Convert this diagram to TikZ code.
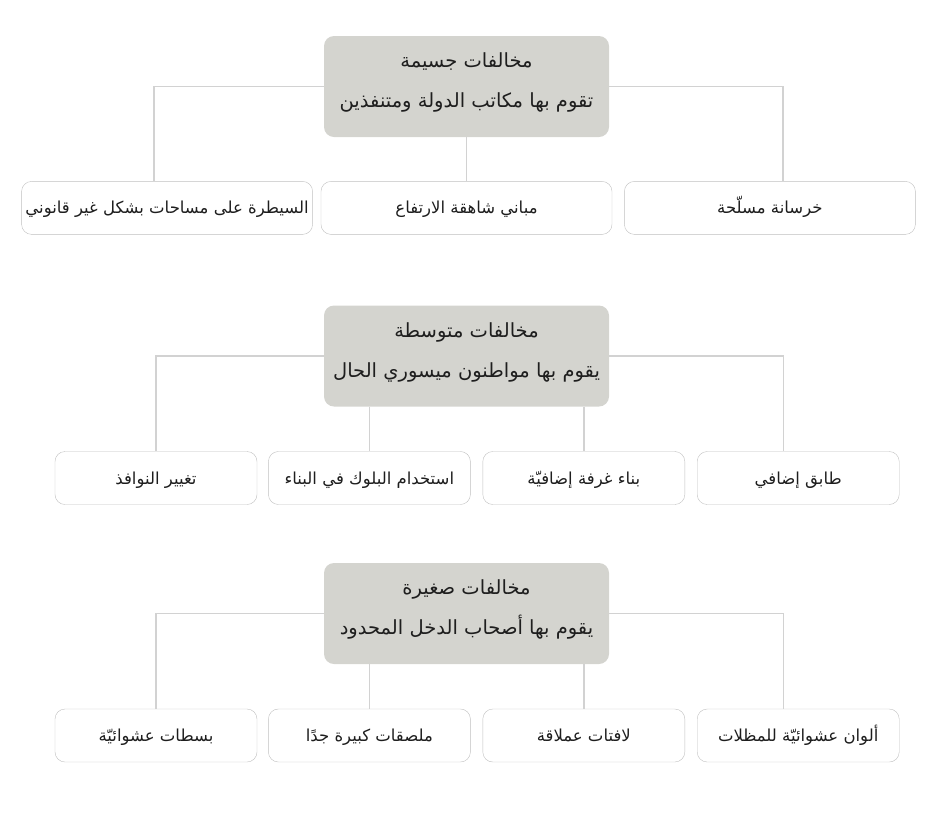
\documentclass[tikz,border=0pt]{standalone}
\usepackage{fontspec}
\usetikzlibrary{positioning}
\TeXXeTstate=1
\newfontfamily\arabicfont[Script=Arabic]{DejaVu Sans}
\newcommand{\artext}[1]{{\arabicfont\beginR #1\endR}}
\definecolor{headgray}{RGB}{212,212,207}
\definecolor{leafgray}{RGB}{192,192,192}
\definecolor{linegray}{RGB}{210,210,210}
\definecolor{inkgray}{RGB}{30,30,30}

\begin{document}
\begin{tikzpicture}[x=1pt,y=-1pt]
\tikzstyle{head}=[rectangle, rounded corners=10pt, fill=headgray, text=inkgray, minimum width=285pt, minimum height=101pt, align=center, text depth=12pt, font=\fontsize{19.5}{40}\selectfont]
\tikzstyle{leaf}=[rectangle, rounded corners=10pt, draw=leafgray, fill=white, text=inkgray, minimum height=53pt, text height=13.5pt, text depth=1.5pt, font=\fontsize{16.5}{18}\selectfont]
\tikzstyle{wide}=[leaf, minimum width=291pt]
\tikzstyle{narrow}=[leaf, minimum width=202pt]
\tikzstyle{connect}=[draw=linegray, line width=1.4pt]
\useasboundingbox (0,0) rectangle (939,812);
  % grave violations
  \node[head] (r1) at (466.5,86.5) {\artext{مخالفات جسيمة}\\ \artext{تقوم بها مكاتب الدولة ومتنفذين}};
  \node[wide] (g2) [below=44pt of r1] {\artext{مباني شاهقة الارتفاع}};
  \node[wide] (g3) [right=12pt of g2] {\artext{خرسانة مسلّحة}};
  \node[wide] (g1) [left=8pt of g2] {\artext{السيطرة على مساحات بشكل غير قانوني}};
  % medium violations
  \node[head] (r2) at (466.5,356) {\artext{مخالفات متوسطة}\\ \artext{يقوم بها مواطنون ميسوري الحال}};
  \node[narrow] (m1) at (156,478) {\artext{تغيير النوافذ}};
  \node[narrow] (m2) [right=11pt of m1] {\artext{استخدام البلوك في البناء}};
  \node[narrow] (m3) [right=12pt of m2] {\artext{بناء غرفة إضافيّة}};
  \node[narrow] (m4) [right=12pt of m3] {\artext{طابق إضافي}};
  % minor violations
  \node[head] (r3) at (466.5,613.5) {\artext{مخالفات صغيرة}\\ \artext{يقوم بها أصحاب الدخل المحدود}};
  \node[narrow] (n1) at (156,735.5) {\artext{بسطات عشوائيّة}};
  \node[narrow] (n2) [right=11pt of n1] {\artext{ملصقات كبيرة جدًا}};
  \node[narrow] (n3) [right=12pt of n2] {\artext{لافتات عملاقة}};
  \node[narrow] (n4) [right=12pt of n3] {\artext{ألوان عشوائيّة للمظلات}};
  \path[connect] (r1.west) -| ([xshift=-13pt]g1.north)
           (r1.east) -| ([xshift=13pt]g3.north)
           (r1.south -| g2.north) -- (g2.north)
           (r2.west) -| (m1.north)
           (r2.east) -| ([xshift=-15pt]m4.north)
           (r2.south -| m2.north) -- (m2.north)
           (r2.south -| m3.north) -- (m3.north)
           (r3.west) -| (n1.north)
           (r3.east) -| ([xshift=-15pt]n4.north)
           (r3.south -| n2.north) -- (n2.north)
           (r3.south -| n3.north) -- (n3.north)
           ;
\end{tikzpicture}
\end{document}
